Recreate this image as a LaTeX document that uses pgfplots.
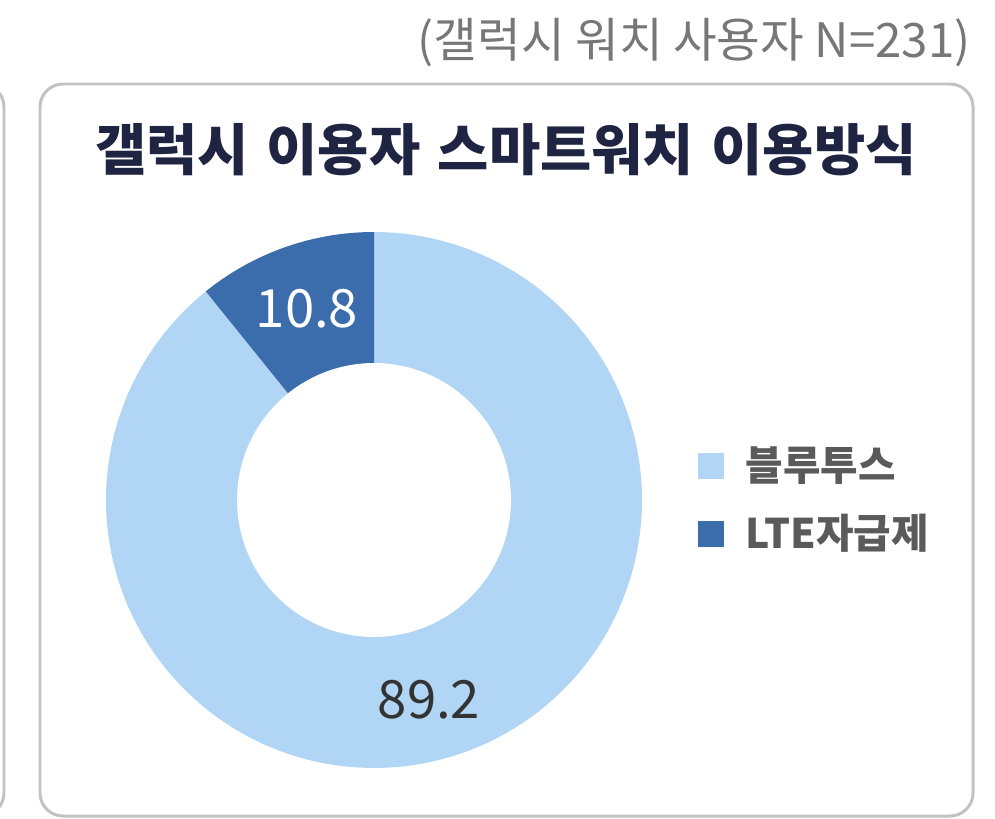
\documentclass[border=0pt]{standalone}
\usepackage{pgfplots}
\pgfplotsset{compat=1.18}
\usepackage{fontspec}
\setmainfont{Noto Sans CJK KR}

\definecolor{btblue}{HTML}{B0D5F5}
\definecolor{lteblue}{HTML}{3B6DAC}
\definecolor{boxgray}{HTML}{C2C2C2}
\definecolor{titlenavy}{HTML}{1F2442}
\definecolor{notegray}{HTML}{777777}
\definecolor{legtext}{HTML}{5A5A5A}
\definecolor{numtext}{HTML}{333333}

% shares in percent
\def\lte{10.8}
\def\bt{89.2}
\pgfmathsetmacro{\aA}{90}
\pgfmathsetmacro{\aB}{90+3.6*\lte}
\pgfmathsetmacro{\aC}{\aB+3.6*\bt}
% donut geometry (px)
\def\cx{374}\def\cy{318}\def\Ro{268}\def\Ri{137}

\begin{document}
\begin{tikzpicture}
\begin{axis}[
    scale only axis,
    width=9.95cm, height=8.18cm,
    xmin=0, xmax=995, ymin=0, ymax=818,
    hide axis,
    legend image code/.code={\fill[#1] (0mm,-1.3mm) rectangle (2.6mm,1.3mm);},
    legend cell align=left,
    legend style={at={(axis cs:697,372)}, anchor=north west, draw=none, fill=none,
        inner sep=0pt, row sep=2.8mm, column sep=2.2mm,
        font=\bfseries\fontsize{11.6}{13}\selectfont, text=legtext,
        nodes={inner sep=0pt}},
]
% panel frames
\draw[boxgray, line width=0.85pt, rounded corners=2.3mm]
    (axis cs:40,2) rectangle (axis cs:973,734);
\draw[boxgray, line width=0.85pt, rounded corners=2.3mm]
    (axis cs:-80,734) -- (axis cs:4,734) -- (axis cs:4,2) -- (axis cs:-80,2);

\addplot[fill=btblue, draw=none, domain=\aB:\aC, samples=150]
    ({\cx+\Ro*cos(x)}, {\cy+\Ro*sin(x)}) -- (axis cs:\cx,\cy) -- cycle;
\addplot[fill=lteblue, draw=none, domain=\aA:\aB, samples=40]
    ({\cx+\Ro*cos(x)}, {\cy+\Ro*sin(x)}) -- (axis cs:\cx,\cy) -- cycle;
\addplot[fill=white, draw=none, domain=0:360, samples=150, forget plot]
    ({\cx+\Ri*cos(x)}, {\cy+\Ri*sin(x)}) -- cycle;
\legend{블루투스, LTE자급제}

\node[text=white, font=\fontsize{15}{18}\selectfont] at (axis cs:307,509) {10.8};
\node[text=numtext, font=\fontsize{15}{18}\selectfont] at (axis cs:429,118) {89.2};

\node[text=titlenavy, font=\bfseries\fontsize{15.85}{19}\selectfont] at (axis cs:506,668)
    {\spaceskip=1.75mm\relax 갤럭시 이용자 스마트워치 이용방식};
\node[anchor=east, text=notegray, font=\fontsize{13.5}{16}\selectfont] at (axis cs:983,775)
    {(갤럭시 워치 사용자 N=231)};
\end{axis}
\pgfresetboundingbox
\path (current axis.south west) rectangle (current axis.north east);
\end{tikzpicture}
\end{document}
